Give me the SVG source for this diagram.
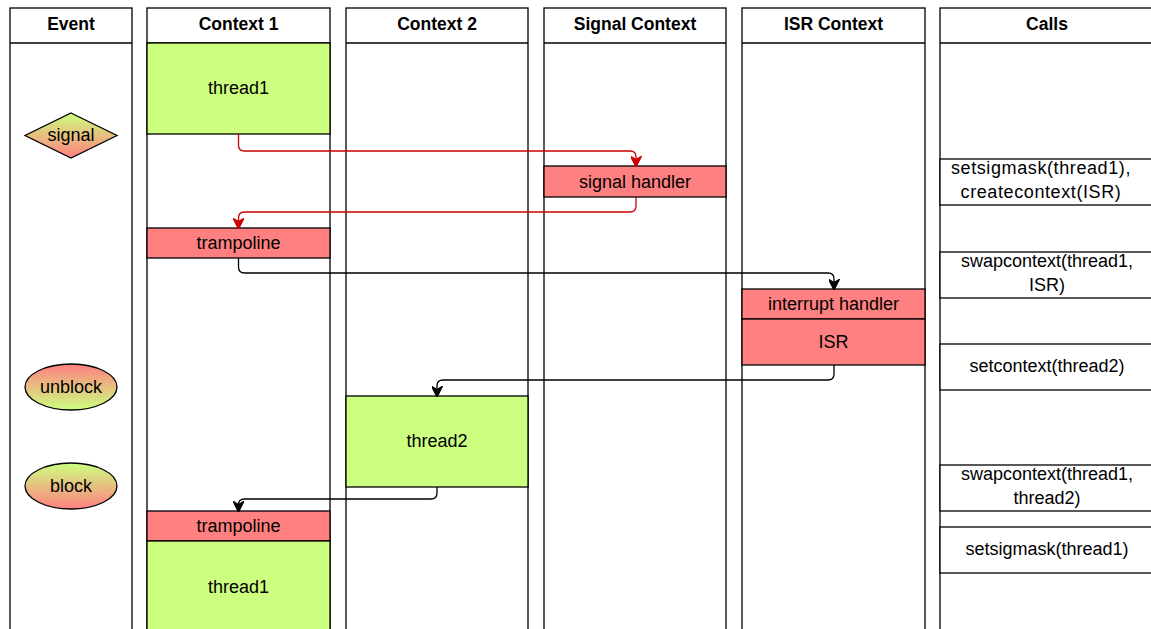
<svg xmlns="http://www.w3.org/2000/svg" width="1151" height="629" viewBox="0 0 1151 629">
  <style>
    .lane { fill: #ffffff; stroke: #000000; stroke-width: 1.3; }
    .hdr { font-family: "Liberation Sans", Arial, sans-serif; font-size: 17.5px; font-weight: bold; text-anchor: middle; fill: #000; }
    .lbl { font-family: "Liberation Sans", Arial, sans-serif; font-size: 18px; text-anchor: middle; fill: #000; }
    .lbl-wide { letter-spacing: 0.6px; }
    .green { fill: #ccff80; stroke: #000; stroke-width: 1.3; }
    .red { fill: #ff8080; stroke: #000; stroke-width: 1.3; }
    .call { fill: #ffffff; stroke: #000; stroke-width: 1.3; }
    .ev { stroke: #000; stroke-width: 1.3; }
    .edge { fill: none; stroke-width: 1.3; }
    .edge-red { stroke: #cc0000; }
    .edge-black { stroke: #000000; }
  </style>
  <defs>
    <linearGradient id="gUp" x1="0" y1="0" x2="0" y2="1">
      <stop offset="0" stop-color="#ccff80"/>
      <stop offset="1" stop-color="#ff8080"/>
    </linearGradient>
    <linearGradient id="gDown" x1="0" y1="0" x2="0" y2="1">
      <stop offset="0" stop-color="#ff8080"/>
      <stop offset="1" stop-color="#ccff80"/>
    </linearGradient>
    <marker id="arrRed" viewBox="0 0 10 10" refX="8" refY="5" markerWidth="11" markerHeight="11" markerUnits="userSpaceOnUse" orient="auto">
      <path d="M0,0 L10,5 L0,10 L3,5 Z" fill="#cc0000" stroke="#cc0000" stroke-width="1"/>
    </marker>
    <marker id="arrBlack" viewBox="0 0 10 10" refX="8" refY="5" markerWidth="11" markerHeight="11" markerUnits="userSpaceOnUse" orient="auto">
      <path d="M0,0 L10,5 L0,10 L3,5 Z" fill="#000" stroke="#000" stroke-width="1"/>
    </marker>
  </defs>

  <!-- swimlanes -->
  <g id="lane-event">
    <rect class="lane" x="10" y="8" width="122" height="640"/>
    <line class="lane" x1="10" y1="43" x2="132" y2="43"/>
    <text class="hdr" x="71" y="30">Event</text>
  </g>
  <g id="lane-context1">
    <rect class="lane" x="147" y="8" width="183" height="640"/>
    <line class="lane" x1="147" y1="43" x2="330" y2="43"/>
    <text class="hdr" x="238.5" y="30">Context 1</text>
  </g>
  <g id="lane-context2">
    <rect class="lane" x="346" y="8" width="182" height="640"/>
    <line class="lane" x1="346" y1="43" x2="528" y2="43"/>
    <text class="hdr" x="437" y="30">Context 2</text>
  </g>
  <g id="lane-signal">
    <rect class="lane" x="544" y="8" width="182" height="640"/>
    <line class="lane" x1="544" y1="43" x2="726" y2="43"/>
    <text class="hdr" x="635" y="30">Signal Context</text>
  </g>
  <g id="lane-isr">
    <rect class="lane" x="742" y="8" width="183" height="640"/>
    <line class="lane" x1="742" y1="43" x2="925" y2="43"/>
    <text class="hdr" x="833.5" y="30">ISR Context</text>
  </g>
  <g id="lane-calls">
    <rect class="lane" x="940" y="8" width="214" height="640"/>
    <line class="lane" x1="940" y1="43" x2="1154" y2="43"/>
    <text class="hdr" x="1047" y="30">Calls</text>
  </g>

  <!-- events -->
  <g id="ev-signal">
    <polygon class="ev" points="71,113 117,135.5 71,158 25,135.5" fill="url(#gUp)"/>
    <text class="lbl" x="71" y="141">signal</text>
  </g>
  <g id="ev-unblock">
    <ellipse class="ev" cx="71" cy="387" rx="46" ry="23" fill="url(#gDown)"/>
    <text class="lbl" x="71" y="393">unblock</text>
  </g>
  <g id="ev-block">
    <ellipse class="ev" cx="71" cy="486" rx="46" ry="23" fill="url(#gUp)"/>
    <text class="lbl" x="71" y="492">block</text>
  </g>

  <!-- context blocks -->
  <g id="c1-thread1">
    <rect class="green" x="147" y="43" width="183" height="91"/>
    <text class="lbl" x="238.5" y="94">thread1</text>
  </g>
  <g id="c1-trampoline">
    <rect class="red" x="147" y="228" width="183" height="30"/>
    <text class="lbl" x="238.5" y="249">trampoline</text>
  </g>
  <g id="sig-handler">
    <rect class="red" x="544" y="166" width="182" height="31"/>
    <text class="lbl" x="635" y="188">signal handler</text>
  </g>
  <g id="isr-interrupt">
    <rect class="red" x="742" y="289" width="183" height="30"/>
    <text class="lbl" x="833.5" y="310">interrupt handler</text>
  </g>
  <g id="isr-isr">
    <rect class="red" x="742" y="319" width="183" height="46"/>
    <text class="lbl" x="833.5" y="348">ISR</text>
  </g>
  <g id="c2-thread2">
    <rect class="green" x="346" y="396" width="182" height="91"/>
    <text class="lbl" x="437" y="447">thread2</text>
  </g>
  <g id="c1-trampoline2">
    <rect class="red" x="147" y="511" width="183" height="30"/>
    <text class="lbl" x="238.5" y="532">trampoline</text>
  </g>
  <g id="c1-thread1b">
    <rect class="green" x="147" y="541" width="183" height="100"/>
    <text class="lbl" x="238.5" y="593">thread1</text>
  </g>

  <!-- calls -->
  <g id="call-1">
    <rect class="call" x="940" y="159" width="214" height="46"/>
    <text class="lbl lbl-wide" x="1041" y="174">setsigmask(thread1),</text>
    <text class="lbl lbl-wide" x="1041" y="198">createcontext(ISR)</text>
  </g>
  <g id="call-2">
    <rect class="call" x="940" y="252" width="214" height="46"/>
    <text class="lbl" x="1047" y="267">swapcontext(thread1,</text>
    <text class="lbl" x="1047" y="291">ISR)</text>
  </g>
  <g id="call-3">
    <rect class="call" x="940" y="344" width="214" height="46"/>
    <text class="lbl" x="1047" y="372">setcontext(thread2)</text>
  </g>
  <g id="call-4">
    <rect class="call" x="940" y="465" width="214" height="46"/>
    <text class="lbl" x="1047" y="480">swapcontext(thread1,</text>
    <text class="lbl" x="1047" y="504">thread2)</text>
  </g>
  <g id="call-5">
    <rect class="call" x="940" y="527" width="214" height="46"/>
    <text class="lbl" x="1047" y="555">setsigmask(thread1)</text>
  </g>

  <!-- connectors -->
  <g id="connectors">
    <path class="edge edge-red" d="M238.5,134 V145 Q238.5,151 244.5,151 H630 Q636,151 636,157 V165" marker-end="url(#arrRed)"/>
    <path class="edge edge-red" d="M636,197 V206 Q636,212 630,212 H244.5 Q238.5,212 238.5,218 V227" marker-end="url(#arrRed)"/>
    <path class="edge edge-black" d="M238.5,258 V267 Q238.5,273 244.5,273 H828 Q834,273 834,279 V288" marker-end="url(#arrBlack)"/>
    <path class="edge edge-black" d="M834,365 V374 Q834,380 828,380 H443 Q437,380 437,386 V395" marker-end="url(#arrBlack)"/>
    <path class="edge edge-black" d="M437,487 V493 Q437,499 431,499 H244.5 Q238.5,499 238.5,505 V510" marker-end="url(#arrBlack)"/>
  </g>
</svg>
